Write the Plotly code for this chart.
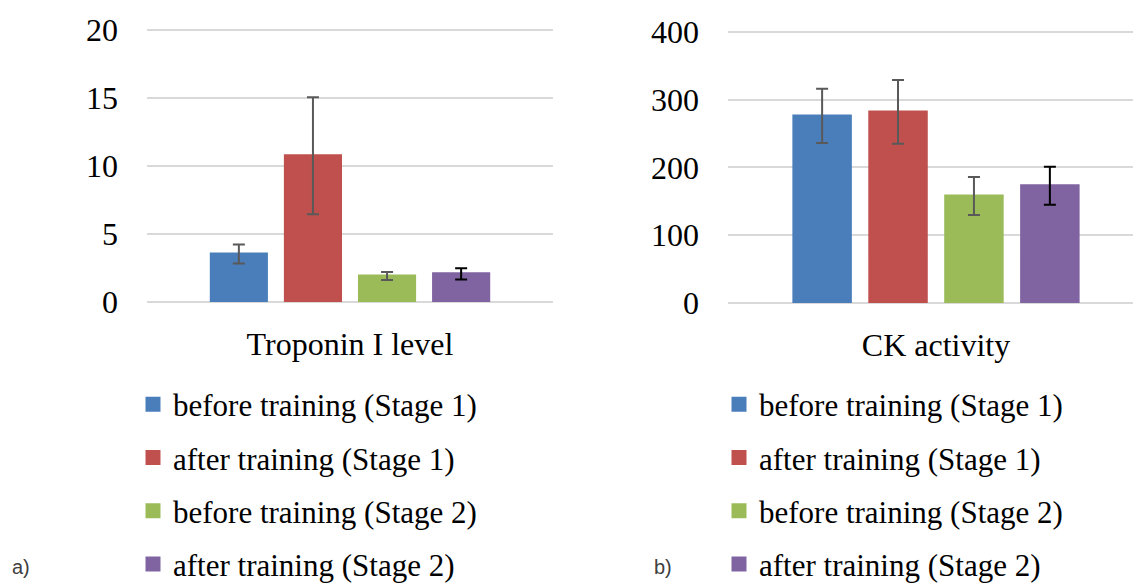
import plotly.graph_objects as go

W, H = 1133, 583

series_names = ["before training (Stage 1)", "after training (Stage 1)",
                "before training (Stage 2)", "after training (Stage 2)"]
colors = ["#4a7ebb", "#c0504d", "#9bbb59", "#8064a2"]
err_colors = ["#595959", "#595959", "#595959", "#000000"]

troponin_cat = ["Troponin I level"]
troponin_vals = [3.53, 10.75, 1.91, 2.07]
troponin_err = [0.70, 4.30, 0.30, 0.42]

ck_cat = ["CK activity"]
ck_vals = [276, 282, 158, 173]
ck_err = [40, 47, 28, 28]

left_ticks = [0, 5, 10, 15, 20]
right_ticks = [0, 100, 200, 300, 400]

fig = go.Figure()

for i, name in enumerate(series_names):
    fig.add_trace(go.Bar(
        x=troponin_cat, y=[troponin_vals[i]], name=name,
        marker=dict(color=colors[i], line=dict(color=colors[i], width=3)),
        error_y=dict(type="data", array=[troponin_err[i]], color=err_colors[i],
                     thickness=2, width=6),
        xaxis="x", yaxis="y", legend="legend", legendgroup="L%d" % i,
    ))
for i, name in enumerate(series_names):
    fig.add_trace(go.Bar(
        x=ck_cat, y=[ck_vals[i]], name=name,
        marker=dict(color=colors[i], line=dict(color=colors[i], width=3)),
        error_y=dict(type="data", array=[ck_err[i]], color=err_colors[i],
                     thickness=2, width=6),
        xaxis="x2", yaxis="y2", legend="legend2", legendgroup="R%d" % i,
    ))

def px_x(p):
    return p / W

def px_y(p):
    return 1 - p / H

tick_font = dict(family="Liberation Serif, Times New Roman, serif", size=32, color="#000000")
leg_font = dict(family="Liberation Serif, Times New Roman, serif", size=31, color="#000000")
grid = "#d9d9d9"

fig.update_layout(
    template="none",
    width=W, height=H,
    margin=dict(l=0, r=0, t=0, b=0, autoexpand=False),
    paper_bgcolor="white", plot_bgcolor="white",
    barmode="group", bargap=0.27, bargroupgap=0.256,
    xaxis=dict(domain=[px_x(147), px_x(553)], anchor="y", range=[-0.5, 0.5],
               showgrid=False, zeroline=False, showline=False, ticks="",
               automargin=False, tickfont=tick_font, ticklabelstandoff=20),
    yaxis=dict(domain=[px_y(302), px_y(28.6)], anchor="x", range=[0, 20.1],
               tickvals=left_ticks, showgrid=True, gridcolor=grid, gridwidth=1.5,
               zeroline=True, zerolinecolor=grid, zerolinewidth=1.5,
               showline=False, ticks="", automargin=False,
               tickfont=tick_font, ticklabelstandoff=28),
    xaxis2=dict(domain=[px_x(728), 1.0], anchor="y2", range=[-0.5, 0.4736],
                showgrid=False, zeroline=False, showline=False, ticks="",
                automargin=False, tickfont=tick_font, ticklabelstandoff=20),
    yaxis2=dict(domain=[px_y(303), px_y(30.6)], anchor="x2", range=[0, 402],
                tickvals=right_ticks, showgrid=True, gridcolor=grid, gridwidth=1.5,
                zeroline=True, zerolinecolor=grid, zerolinewidth=1.5,
                showline=False, ticks="", automargin=False,
                tickfont=tick_font, ticklabelstandoff=28),
    legend=dict(x=px_x(133), xanchor="left", y=px_y(377.5), yanchor="top",
                font=leg_font, tracegroupgap=10, traceorder="grouped",
                bgcolor="rgba(0,0,0,0)", borderwidth=0),
    legend2=dict(x=px_x(719), xanchor="left", y=px_y(377.5), yanchor="top",
                 font=leg_font, tracegroupgap=10, traceorder="grouped",
                 bgcolor="rgba(0,0,0,0)", borderwidth=0),
    showlegend=True,
    annotations=[
        dict(text="a)", x=px_x(10), y=px_y(567), xref="paper", yref="paper",
             xanchor="left", yanchor="middle", showarrow=False,
             font=dict(family="Liberation Sans, Arial, sans-serif", size=20, color="#404040")),
        dict(text="b)", x=px_x(652), y=px_y(567), xref="paper", yref="paper",
             xanchor="left", yanchor="middle", showarrow=False,
             font=dict(family="Liberation Sans, Arial, sans-serif", size=20, color="#404040")),
    ],
)

fig.write_html("out.html",
               config={"displayModeBar": False},
               post_script="document.body.style.margin='0';document.body.style.overflow='hidden';")
